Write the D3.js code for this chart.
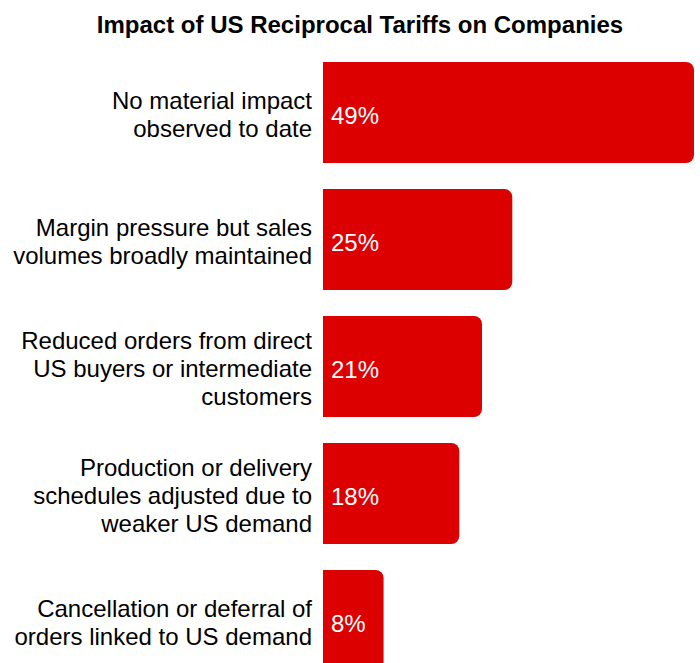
<!DOCTYPE html>
<html>
<head>
<meta charset="utf-8">
<script src="https://cdn.jsdelivr.net/npm/d3@7"></script>
<style>
  html, body { margin: 0; padding: 0; background: #fff; }
  svg { display: block; }
</style>
</head>
<body>
<svg id="chart" width="700" height="663"></svg>
<script>
// Survey responses: share of companies by observed tariff impact
const categories = [
  ["No material impact", "observed to date"],
  ["Margin pressure but sales", "volumes broadly maintained"],
  ["Reduced orders from direct", "US buyers or intermediate", "customers"],
  ["Production or delivery", "schedules adjusted due to", "weaker US demand"],
  ["Cancellation or deferral of", "orders linked to US demand"]
];
const shares = [49, 25, 21, 18, 8];
const valueLabels = ["49%", "25%", "21%", "18%", "8%"];
const title = "Impact of US Reciprocal Tariffs on Companies";

const svg = d3.select("#chart");
const keys = categories.map((c, i) => i);

const y = d3.scaleBand()
  .domain(keys)
  .range([49, 684])
  .paddingInner(26 / 127)
  .paddingOuter(13 / 127);

const x = d3.scaleLinear().domain([0, 49]).range([323, 694]);

const RED = "#dd0000";
const r = 8;

// bar with rounded right-hand corners only
function barPath(x0, x1, y0, h) {
  const rr = Math.min(r, (x1 - x0) / 2, h / 2);
  return `M${x0},${y0}H${x1 - rr}A${rr},${rr} 0 0 1 ${x1},${y0 + rr}` +
         `V${y0 + h - rr}A${rr},${rr} 0 0 1 ${x1 - rr},${y0 + h}H${x0}Z`;
}

svg.append("text")
  .attr("x", 360)
  .attr("y", 33)
  .attr("text-anchor", "middle")
  .attr("font-family", "'Liberation Sans Narrow', 'Arial Narrow', 'Liberation Sans', Arial, sans-serif")
  .attr("font-weight", "bold")
  .attr("font-size", 24)
  .attr("fill", "#000")
  .text(title);

const rows = svg.selectAll("g.row")
  .data(keys)
  .join("g")
  .attr("class", "row");

rows.append("path")
  .attr("d", i => barPath(x(0), x(shares[i]), y(i), y.bandwidth()))
  .attr("fill", RED);

rows.append("text")
  .attr("x", x(0) + 8)
  .attr("y", i => y(i) + y.bandwidth() / 2)
  .attr("dy", "0.48em")
  .attr("font-family", "'Liberation Sans', Arial, sans-serif")
  .attr("font-size", 24)
  .attr("fill", "#fff")
  .text(i => valueLabels[i]);

const lineH = 28;
rows.each(function (i) {
  const lines = categories[i];
  const cy = y(i) + y.bandwidth() / 2;
  const t = d3.select(this).append("text")
    .attr("text-anchor", "end")
    .attr("font-family", "'Liberation Sans', Arial, sans-serif")
    .attr("font-size", 24)
    .attr("fill", "#000");
  lines.forEach((ln, k) => {
    t.append("tspan")
      .attr("x", 312)
      .attr("y", cy + (k - (lines.length - 1) / 2) * lineH)
      .attr("dy", "0.43em")
      .text(ln);
  });
});
</script>
</body>
</html>
